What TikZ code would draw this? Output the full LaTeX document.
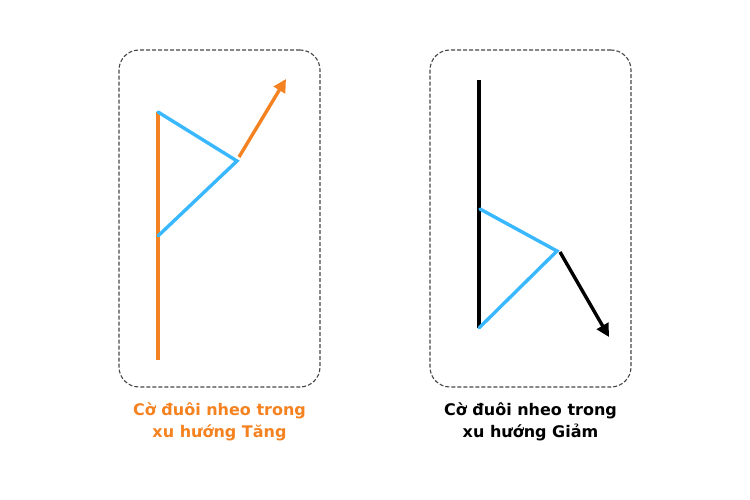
\documentclass[tikz,border=0pt]{standalone}
\usepackage{fontspec}
\setmainfont{DejaVu Sans}
\usepackage{tikz}
\usetikzlibrary{arrows.meta, positioning}

\definecolor{flagorange}{RGB}{245,130,32}
\definecolor{flagblue}{RGB}{58,184,255}
\definecolor{boxgray}{RGB}{70,70,70}

\begin{document}
\begin{tikzpicture}[>={Triangle[length=13pt, width=13pt]}, x=1pt, y=-1pt,
  panel/.style = {draw = boxgray, dash pattern = on 4pt off 2pt, line width = 1.1pt,
    rounded corners = 20pt, minimum width = 201pt, minimum height = 337pt},
  pole/.style = {line width = 3.4pt},
  pennant/.style = {draw = flagblue, line width = 3.4pt, line cap = round},
  caption/.style = {align = center, font = \fontsize{16}{22}\selectfont\bfseries}]
\useasboundingbox (0,0) rectangle (750,500);

% the two dashed panels
\node[panel] (up-panel) at (219.5,218.5) {};
\node[panel] (down-panel) at (530.5,218.5) {};
\node[caption, text = flagorange, below = 12pt of up-panel] (up-label) {Cờ đuôi nheo trong\\xu hướng Tăng};
\node[caption, below = 12pt of down-panel] (down-label) {Cờ đuôi nheo trong\\xu hướng Giảm};

% rising flag
\coordinate (up-top) at (158,112);
\coordinate (up-foot) at (158,360);
\coordinate (up-tip) at (237,161);
\coordinate (up-low) at (158,236);
\coordinate (up-start) at (239,157);
\coordinate (up-end) at (286,79);
\draw[pole, flagorange] (up-top) -- (up-foot);
\draw[pennant] (up-top) -- (up-tip) -- (up-low);
\draw[pole, flagorange, ->] (up-start) -- (up-end);

% falling flag
\coordinate (down-top) at (479,80);
\coordinate (down-foot) at (479,328);
\coordinate (down-high) at (480,209);
\coordinate (down-tip) at (557,251);
\coordinate (down-start) at (560,252);
\coordinate (down-end) at (609,337);
\draw[pole, black] (down-top) -- (down-foot);
\draw[pennant] (down-high) -- (down-tip) -- (down-foot);
\draw[pole, black, ->] (down-start) -- (down-end);
\end{tikzpicture}
\end{document}
